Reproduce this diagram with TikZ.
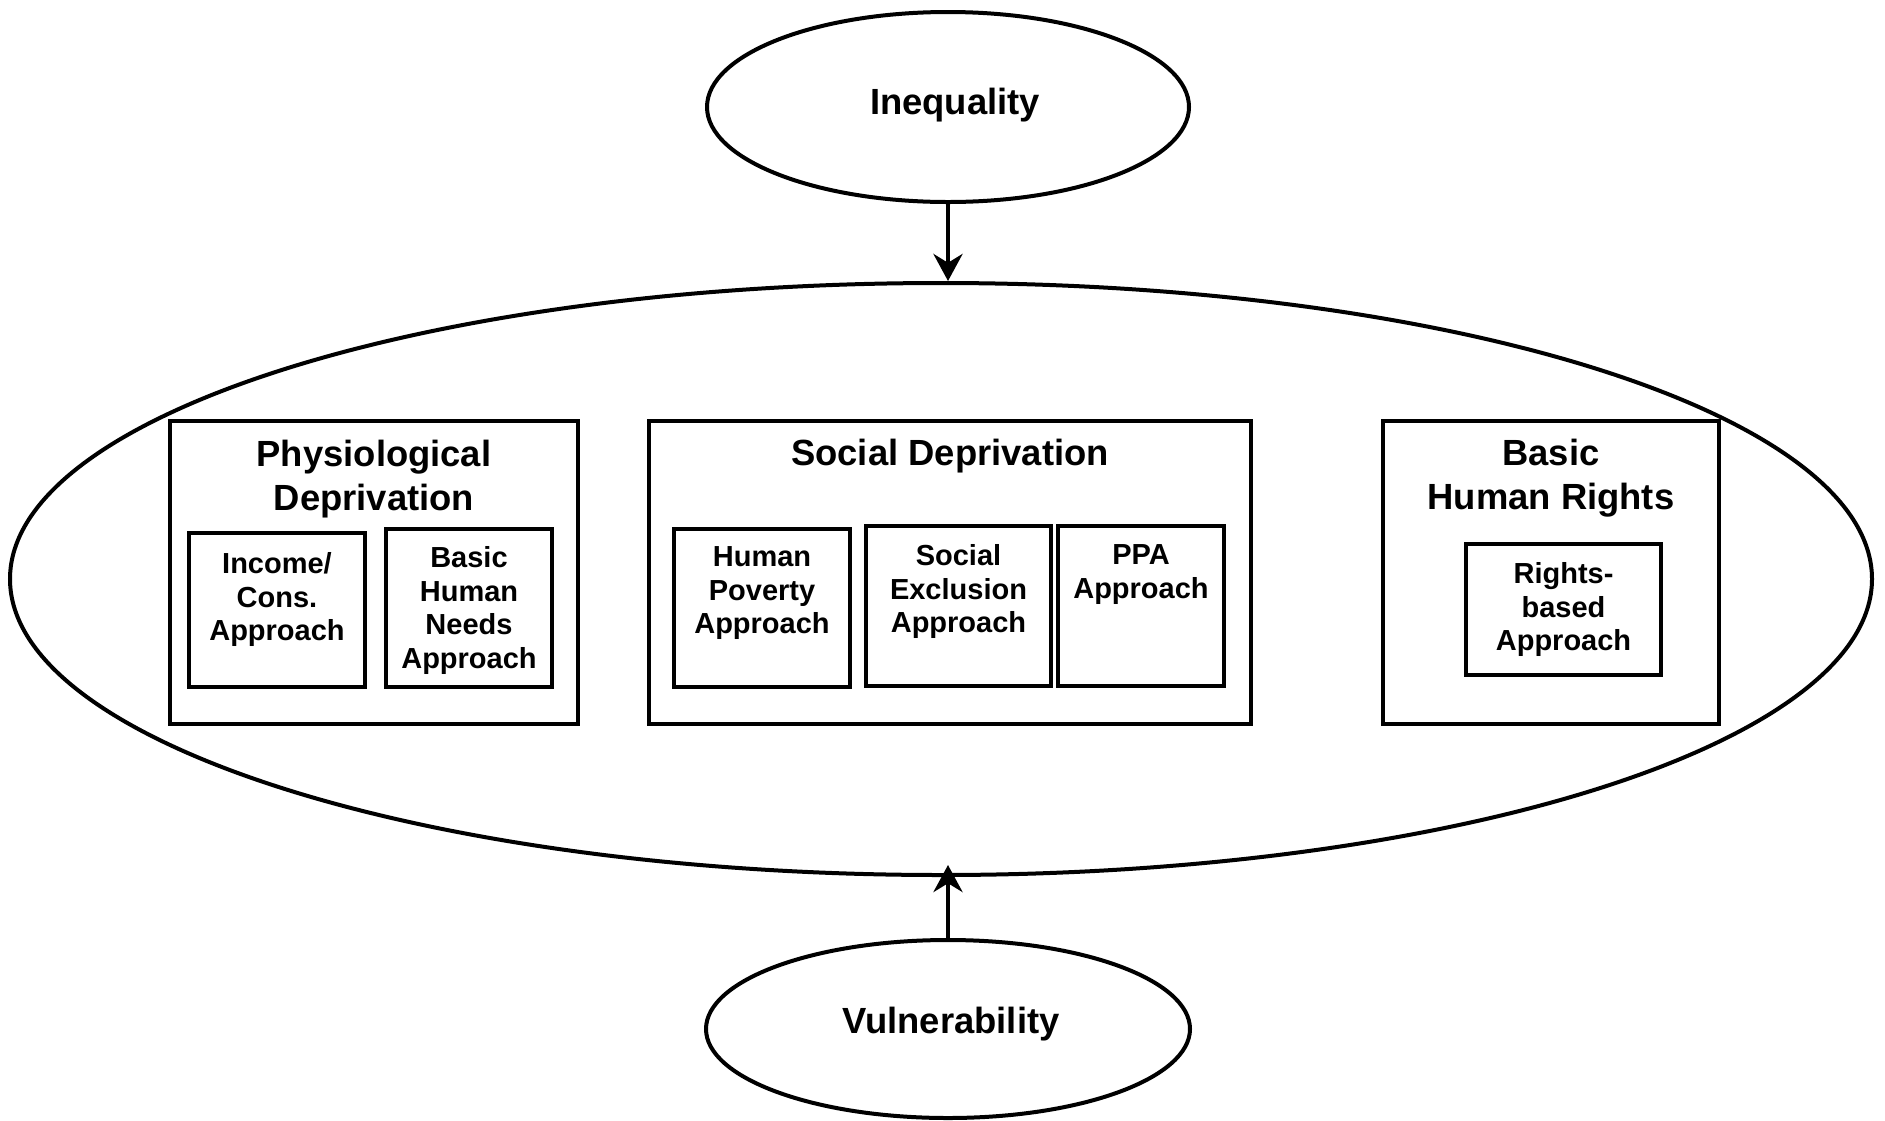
\documentclass[tikz,border=0pt]{standalone}
\usepackage{fontspec}
\setmainfont{Liberation Sans}
\usetikzlibrary{shapes.geometric,arrows.meta}
\tikzset{
  ell/.style={draw=black, line width=2pt, ellipse, inner sep=0pt},
  box/.style={draw=black, line width=2.3pt, rectangle, inner sep=0pt},
  ttl/.style={anchor=north, inner sep=0pt, align=center,
    font=\bfseries\fontsize{18.2pt}{21.8pt}\selectfont},
  itxt/.style={anchor=north, inner sep=0pt, align=center,
    font=\bfseries\fontsize{14.5pt}{16.8pt}\selectfont},
  arr/.style={draw=black, line width=2.2pt, -{Stealth[length=13.5pt,width=14.5pt]}}
}
\begin{document}
\begin{tikzpicture}[x=0.5pt,y=-0.5pt]
\useasboundingbox (0,0) rectangle (1885,1120);
% ellipses
\node[ell, minimum width=241pt, minimum height=95pt] (ineq) at (948,107) {};
\node[ell, minimum width=931pt, minimum height=296pt] (big) at (941,579) {};
\node[ell, minimum width=242pt, minimum height=89pt] (vul) at (948,1029) {};
\node[ttl] (ineqt) at (955,88) {Inequality};
\node[ttl] (vult) at (951,1007) {Vulnerability};
% group boxes
\node[box, minimum width=204pt, minimum height=151.5pt] (phys) at (374,572.5) {};
\node[box, minimum width=301pt, minimum height=151.5pt] (soc) at (950,572.5) {};
\node[box, minimum width=168pt, minimum height=151.5pt] (bhr) at (1551,572.5) {};
\node[ttl] (physt) at (374,440) {Physiological\\Deprivation};
\node[ttl] (soct) at (950,439) {Social Deprivation};
\node[ttl] (bhrt) at (1551,439) {Basic\\Human Rights};
% inner boxes
\node[box, minimum width=88pt, minimum height=77pt] (inc) at (277,610) {};
\node[box, minimum width=83pt, minimum height=79pt] (bhn) at (469,608) {};
\node[box, minimum width=88pt, minimum height=79pt] (hpa) at (762,608) {};
\node[box, minimum width=92.5pt, minimum height=80pt] (sea) at (958.5,606) {};
\node[box, minimum width=83pt, minimum height=80pt] (ppa) at (1141,606) {};
\node[box, minimum width=97.5pt, minimum height=65.5pt] (rba) at (1563.5,609.5) {};
\node[itxt] (inct) at (277,552.2) {Income/\\Cons.\\Approach};
\node[itxt] (bhnt) at (469,546.2) {Basic\\Human\\Needs\\Approach};
\node[itxt] (hpat) at (762,546.2) {Human\\Poverty\\Approach};
\node[itxt] (seat) at (958.5,544.2) {Social\\Exclusion\\Approach};
\node[itxt] (ppat) at (1141,544.2) {PPA\\Approach};
\node[itxt] (rbat) at (1563.5,562.2) {Rights-\\based\\Approach};
% arrows
\draw[arr] (ineq.south) -- (ineq.south |- big.north);
\draw[arr] (vul.north) -- ([yshift=6pt]vul.north |- big.south);
\end{tikzpicture}
\end{document}
